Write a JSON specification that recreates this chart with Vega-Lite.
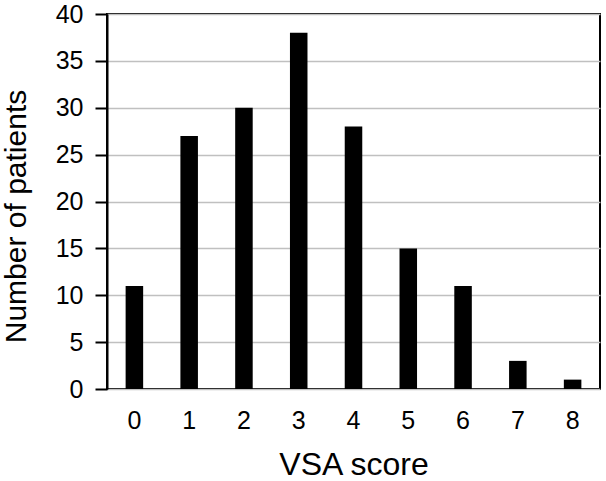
{
  "$schema": "https://vega.github.io/schema/vega-lite/v6.json",
  "autosize": "none",
  "width": 493,
  "height": 375,
  "padding": {"left": 107, "top": 14, "right": 6, "bottom": 92},
  "background": "white",
  "config": {
    "font": "Liberation Sans",
    "view": {"stroke": "black", "strokeWidth": 2}
  },
  "data": {"values": [
    {"score": "0", "n": 11},
    {"score": "1", "n": 27},
    {"score": "2", "n": 30},
    {"score": "3", "n": 38},
    {"score": "4", "n": 28},
    {"score": "5", "n": 15},
    {"score": "6", "n": 11},
    {"score": "7", "n": 3},
    {"score": "8", "n": 1}
  ]},
  "mark": {"type": "bar", "color": "black"},
  "encoding": {
    "x": {"field": "score", "type": "ordinal", "title": "VSA score",
      "scale": {"paddingInner": 0.68, "paddingOuter": 0.34},
      "axis": {"labelAngle": 0, "labelFontSize": 25, "labelColor": "black", "labelPadding": 19, "ticks": false,
        "domain": false, "titleFontSize": 32, "titleFontWeight": "normal", "titleColor": "black", "titlePadding": 16}},
    "y": {"field": "n", "type": "quantitative", "title": "Number of patients",
      "scale": {"domain": [0, 40], "nice": false},
      "axis": {"values": [0,5,10,15,20,25,30,35,40], "labelFontSize": 25, "labelColor": "black", "tickSize": 12, "tickColor": "black", "tickWidth": 2,
        "labelPadding": 12, "domainColor": "black", "domainWidth": 2, "gridColor": "#c0c0c0", "gridWidth": 1.5,
        "titleFontSize": 30, "titleFontWeight": "normal", "titleColor": "black",
        "titleX": -82, "titleY": 202, "titleAngle": -90, "titleAlign": "center", "titleBaseline": "alphabetic"}}
  }
}
